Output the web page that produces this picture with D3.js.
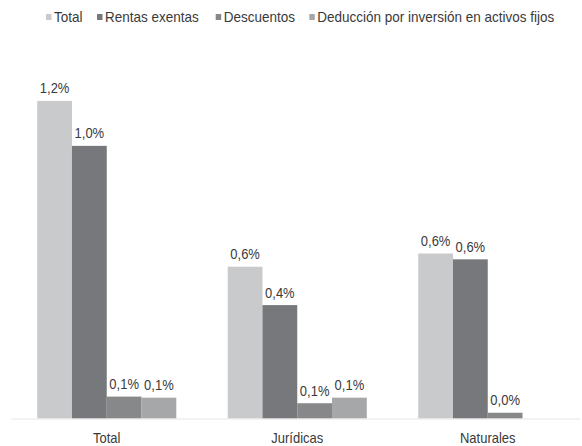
<!DOCTYPE html>
<html><head><meta charset="utf-8">
<script src="https://cdn.jsdelivr.net/npm/d3@7"></script>
<style>
html,body{margin:0;padding:0;background:#fff;}
text{font-family:"Liberation Sans",Arial,sans-serif;fill:#3a3a3a;}
</style></head>
<body><svg id="c" width="582" height="446"></svg>
<script>
const categories = ["Total", "Jurídicas", "Naturales"];
const seriesNames = ["Total", "Rentas exentas", "Descuentos", "Deducción por inversión en activos fijos"];
const seriesColors = ["#c9cacc", "#77787b", "#87888a", "#a5a7a9"];
const totalValues = [1.20, 1.03, 0.082, 0.078];
const juridicasValues = [0.573, 0.428, 0.057, 0.078];
const naturalesValues = [0.623, 0.601, 0.021, null];
const groupValues = [totalValues, juridicasValues, naturalesValues];

const svg = d3.select("#c");
const baseY = 418.3, topY = 48;
const sy = 1.15;

const x0 = d3.scaleBand().domain(categories).range([11.5, 583]).paddingInner(0.27).paddingOuter(0.135);
const x1 = d3.scaleBand().domain(seriesNames).range([0, x0.bandwidth()]).padding(0);
const y = d3.scaleLinear().domain([0, 1.4]).range([baseY, topY]);

const fmt = v => d3.format(".1f")(v).replace(".", ",") + "%";

// axis line
svg.append("line").attr("x1", 11).attr("x2", 580).attr("y1", 419).attr("y2", 419)
  .attr("stroke", "#e4e6e6").attr("stroke-width", 1);

const data = [];
categories.forEach((c, i) => seriesNames.forEach((s, j) => {
  const v = groupValues[i][j];
  if (v !== null && v !== undefined) data.push({c, s, j, v});
}));

svg.selectAll("rect.bar").data(data).enter().append("rect").attr("class", "bar")
  .attr("x", d => x0(d.c) + x1(d.s))
  .attr("width", x1.bandwidth())
  .attr("y", d => y(d.v))
  .attr("height", d => baseY - y(d.v))
  .attr("fill", d => seriesColors[d.j]);

svg.selectAll("text.val").data(data).enter().append("text").attr("class", "val")
  .attr("text-anchor", "middle").attr("font-size", 13)
  .attr("transform", d => `translate(${x0(d.c) + x1(d.s) + x1.bandwidth() / 2},${y(d.v) - 7.5}) scale(1,${sy})`)
  .text(d => fmt(d.v));

// category labels
svg.selectAll("text.cat").data(categories).enter().append("text").attr("class", "cat")
  .attr("text-anchor", "middle").attr("font-size", 13)
  .attr("transform", d => `translate(${x0(d) + x0.bandwidth() / 2},443) scale(1,${sy})`)
  .text(d => d);

// legend
const legendX = [46, 97, 215.7, 309.3];
const lg = svg.append("g");
seriesNames.forEach((s, j) => {
  const g = lg.append("g").attr("transform", `translate(${legendX[j]},0)`);
  g.append("rect").attr("x", 0).attr("y", 14).attr("width", 5.5).attr("height", 6).attr("fill", seriesColors[j]);
  g.append("text").attr("font-size", 13.5)
    .attr("transform", `translate(8,21.5) scale(1,${sy})`).text(s);
});
</script></body></html>
